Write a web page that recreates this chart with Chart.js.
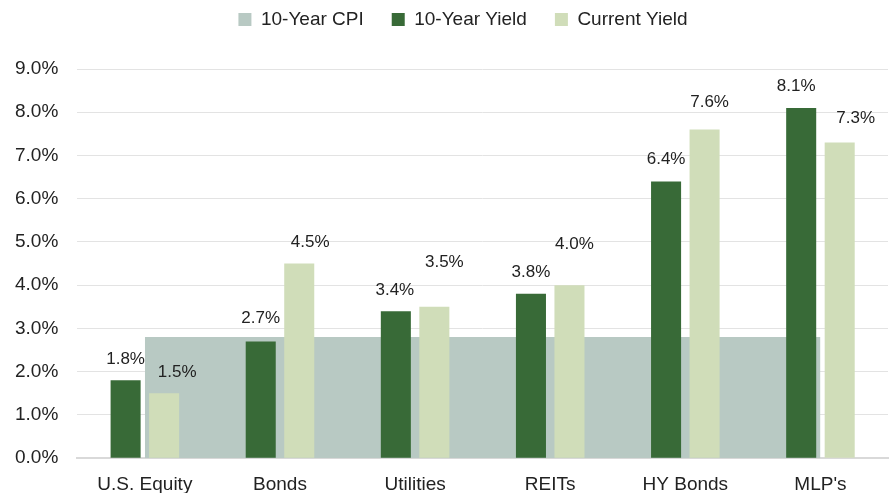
<!DOCTYPE html>
<html>
<head>
<meta charset="utf-8">
<script src="https://cdn.jsdelivr.net/npm/chart.js@4/dist/chart.umd.min.js"></script>
<style>
  body { margin: 0; background: #fff; }
  #wrap { width: 893px; height: 493px; }
</style>
</head>
<body>
<div id="wrap"><canvas id="chart"></canvas></div>
<script>
// Chart data
const categories = ['U.S. Equity', 'Bonds', 'Utilities', 'REITs', 'HY Bonds', "MLP's"];
const cpi10 = [2.8, 2.8, 2.8, 2.8, 2.8, 2.8];
const yield10 = [1.8, 2.7, 3.4, 3.8, 6.4, 8.1];
const currentYield = [1.5, 4.5, 3.5, 4.0, 7.6, 7.3];

const FONT = '"Liberation Sans", Arial, sans-serif';

// Hand-placed value labels in the original: [dx, gap above bar] per bar
const labelNudge = {
  '10-Year Yield': [[0, 21], [0, 23], [-1, 21], [0, 22], [0, 22], [-5, 22]],
  'Current Yield': [[13, 21], [11, 21], [10, 45], [5, 41], [5, 27], [16, 24]]
};

// Value labels above the bars
const barLabels = {
  id: 'barLabels',
  afterDatasetsDraw(chart) {
    const ctx = chart.ctx;
    ctx.save();
    ctx.font = '17px ' + FONT;
    ctx.fillStyle = '#222';
    ctx.textAlign = 'center';
    ctx.textBaseline = 'middle';
    chart.data.datasets.forEach((ds, i) => {
      if (ds.type !== 'bar') return;
      const meta = chart.getDatasetMeta(i);
      const nudge = labelNudge[ds.label];
      meta.data.forEach((bar, j) => {
        const [dx, gap] = nudge[j];
        ctx.fillText(ds.data[j].toFixed(1) + '%', bar.x + dx, bar.y - gap);
      });
    });
    ctx.restore();
  }
};

// Extra room under the legend, and nudge it a bit right
const legendSpace = {
  id: 'legendSpace',
  beforeInit(chart) {
    const fit = chart.legend.fit;
    chart.legend.fit = function() {
      fit.bind(chart.legend)();
      this.height += 30;
    };
  },
  afterLayout(chart) {
    chart.legend.left += 21;
    chart.legend.right += 21;
  }
};

const chart = new Chart(document.getElementById('chart'), {
  data: {
    labels: categories,
    datasets: [
      {
        type: 'line',
        label: '10-Year CPI',
        data: cpi10,
        fill: 'origin',
        backgroundColor: '#b8c9c3',
        borderColor: '#b8c9c3',
        borderWidth: 0,
        pointRadius: 0,
        order: 2
      },
      {
        type: 'bar',
        label: '10-Year Yield',
        data: yield10,
        backgroundColor: '#386a37',
        categoryPercentage: 0.57,
        barPercentage: 0.78,
        order: 1
      },
      {
        type: 'bar',
        label: 'Current Yield',
        data: currentYield,
        backgroundColor: '#d0ddb9',
        categoryPercentage: 0.57,
        barPercentage: 0.78,
        order: 1
      }
    ]
  },
  options: {
    responsive: true,
    maintainAspectRatio: false,
    animation: false,
    layout: { padding: { left: -4, right: 5, top: -18, bottom: -10 } },
    scales: {
      x: {
        grid: { display: false },
        border: { display: true, color: '#d9d9d9', width: 2 },
        ticks: { color: '#222', font: { size: 19, family: FONT }, padding: 7 }
      },
      y: {
        min: 0,
        max: 9,
        grid: { color: '#e3e3e3', lineWidth: 1, drawTicks: false },
        border: { display: false },
        ticks: {
          stepSize: 1,
          padding: 19,
          color: '#222',
          font: { size: 19, family: FONT },
          callback: v => v.toFixed(1) + '%'
        }
      }
    },
    plugins: {
      legend: {
        position: 'top',
        labels: {
          boxWidth: 13,
          boxHeight: 13,
          padding: 28,
          color: '#222',
          font: { size: 19, family: FONT },
          sort: (a, b) => a.datasetIndex - b.datasetIndex
        }
      },
      tooltip: { enabled: false }
    }
  },
  plugins: [barLabels, legendSpace]
});
</script>
</body>
</html>
